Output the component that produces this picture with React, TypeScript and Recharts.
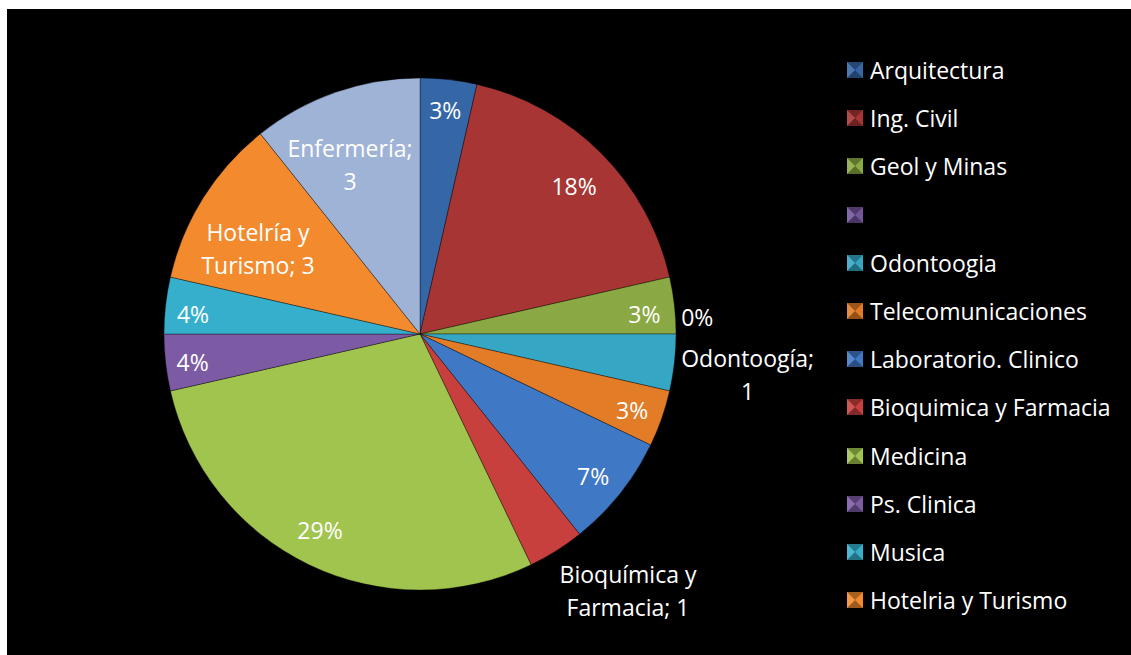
import { PieChart, Pie, Cell, Legend } from 'recharts';

const categories = [
  'Arquitectura',
  'Ing. Civil',
  'Geol y Minas',
  '',
  'Odontoogia',
  'Telecomunicaciones',
  'Laboratorio. Clinico',
  'Bioquimica y Farmacia',
  'Medicina',
  'Ps. Clinica',
  'Musica',
  'Hotelria y Turismo',
  'Enfermería',
];

const values = [1, 5, 1, 0, 1, 1, 2, 1, 8, 1, 1, 3, 3];

const labelTexts = [
  '3%',
  '18%',
  '3%',
  '0%',
  'Odontoogía;\n1',
  '3%',
  '7%',
  'Bioquímica y\nFarmacia; 1',
  '29%',
  '4%',
  '4%',
  'Hotelría y\nTurismo; 3',
  'Enfermería;\n3',
];

// legend only shows the first 12 entries (cut off in the original)
const legendCount = 12;

const colors = [
  '#3566a6',
  '#a63533',
  '#8aa843',
  '#71549a',
  '#35a6c4',
  '#e27c27',
  '#3f78c4',
  '#c7403e',
  '#a1c44e',
  '#7d5ba4',
  '#36afcd',
  '#f38b2e',
  '#9fb3d7',
];

// label placement: radius as fraction of outer radius, angle shift (deg, clockwise)
const labelPlace = [
  { r: 0.88, da: 0 },
  { r: 0.834, da: 1.2 },
  { r: 0.88, da: 1.3 },
  { r: 1.085, da: -3.5 },
  { r: 1.29, da: 0.7 },
  { r: 0.88, da: 0.4 },
  { r: 0.875, da: 0.8 },
  { r: 1.29, da: -6.9 },
  { r: 0.86, da: 1.3 },
  { r: 0.895, da: -0.6 },
  { r: 0.89, da: -1.4 },
  { r: 0.715, da: -4.4 },
  { r: 0.715, da: -3.2 },
];

const chartData = categories.map((name, i) => ({
  name,
  value: values[i],
}));

const FONT = '"Open Sans", Lato, sans-serif';
const RAD = Math.PI / 180;

function renderLabel(props: any) {
  const { cx, cy, midAngle, outerRadius, index } = props;
  const place = labelPlace[index];
  const ang = (midAngle - place.da) * RAD;
  const r = outerRadius * place.r;
  const x = cx + r * Math.cos(-ang);
  const y = cy + r * Math.sin(-ang);
  const lines = labelTexts[index].split('\n');
  const lh = 33;
  const y0 = y - ((lines.length - 1) * lh) / 2;

  return (
    <text
      x={x}
      y={y0}
      fill="#ffffff"
      fontSize={23}
      fontFamily={FONT}
      textAnchor="middle"
      dominantBaseline="central"
    >
      {lines.map((ln, k) => (
        <tspan key={k} x={x} y={y0 + k * lh}>
          {ln}
        </tspan>
      ))}
    </text>
  );
}

function LegendBox() {
  return (
    <div style={{ fontFamily: FONT }}>
      {categories.slice(0, legendCount).map((name, i) => (
        <div
          key={i}
          style={{
            display: 'flex',
            alignItems: 'center',
            height: 48.2,
          }}
        >
          <svg width={16} height={16} style={{ marginRight: 7, flexShrink: 0 }}>
            <rect width={16} height={16} fill={colors[i]} />
            <polygon points="0,0 16,0 8,8" fill="rgba(0,0,0,0.3)" />
            <polygon points="0,16 16,16 8,8" fill="rgba(0,0,0,0.35)" />
            <polygon points="0,0 0,16 8,8" fill="rgba(255,255,255,0.12)" />
          </svg>
          <span style={{ color: '#ffffff', fontSize: 23, whiteSpace: 'nowrap' }}>
            {name}
          </span>
        </div>
      ))}
    </div>
  );
}

export default function App() {
  return (
    <div
      style={{
        position: 'absolute',
        left: 7,
        top: 9,
        width: 1124,
        height: 646,
        background: '#000000',
      }}
    >
      <PieChart
        width={1124}
        height={646}
        margin={{ top: 0, right: 0, bottom: 0, left: 0 }}
      >
        <Pie
          data={chartData}
          dataKey="value"
          nameKey="name"
          cx={413}
          cy={325}
          outerRadius={256}
          startAngle={90}
          endAngle={-270}
          stroke="rgba(0,0,0,0.35)"
          strokeWidth={1}
          label={renderLabel}
          labelLine={false}
          isAnimationActive={false}
        >
          {chartData.map((_, i) => (
            <Cell key={i} fill={colors[i]} />
          ))}
        </Pie>
        <Legend
          layout="vertical"
          content={<LegendBox />}
          wrapperStyle={{ position: 'absolute', left: 840, top: 37, width: 284 }}
        />
      </PieChart>
    </div>
  );
}
